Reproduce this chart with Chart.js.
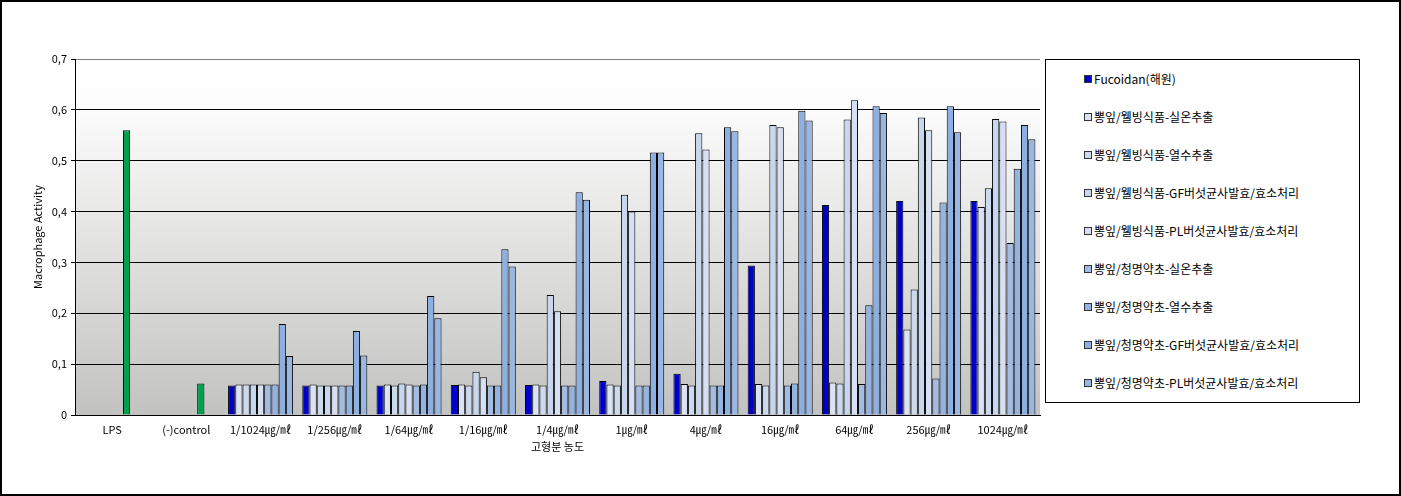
<html>
<head>
<script src="https://cdn.jsdelivr.net/npm/chart.js@4.4.0/dist/chart.umd.min.js"></script>
<style>
    body { margin: 0; background: #fff; }
    #frame { position: absolute; left: 0; top: 0; width: 1397px; height: 492px; border: 2px solid #000; }
    #wrap { position: absolute; left: 0; top: 0; width: 1401px; height: 496px; }
    #legend {
        position: absolute; left: 1045px; top: 59px; width: 313px; height: 342px;
        border: 1px solid #000; background: #fff;
        font-family: "Noto Sans CJK KR", sans-serif; font-size: 12px; color: #000;
    }
    .item { position: absolute; left: 38px; height: 16px; line-height: 16px; white-space: nowrap; }
    .sw { display: inline-block; width: 6px; height: 6px; border: 1px solid #333; margin-right: 2px; vertical-align: 1px; }
</style>
</head>
<body>
<div id="frame"></div>
<div id="wrap"><canvas id="myChart" width="1401" height="496"></canvas></div>
<div id="legend"></div>

<script>
    // categories (x axis)
    const categories = ['LPS', '(-)control', '1/1024㎍/㎖', '1/256㎍/㎖', '1/64㎍/㎖', '1/16㎍/㎖', '1/4㎍/㎖',
        '1㎍/㎖', '4㎍/㎖', '16㎍/㎖', '64㎍/㎖', '256㎍/㎖', '1024㎍/㎖'];

    const seriesNames = ['Fucoidan(해원)', '뽕잎/웰빙식품-실온추출', '뽕잎/웰빙식품-열수추출',
        '뽕잎/웰빙식품-GF버섯균사발효/효소처리', '뽕잎/웰빙식품-PL버섯균사발효/효소처리',
        '뽕잎/청명약초-실온추출', '뽕잎/청명약초-열수추출',
        '뽕잎/청명약초-GF버섯균사발효/효소처리', '뽕잎/청명약초-PL버섯균사발효/효소처리'];

    const fucoidan   = [null, null, 0.058, 0.058, 0.058, 0.059, 0.059, 0.067, 0.081, 0.294, 0.413, 0.421, 0.421];
    const wbRoom     = [null, null, 0.060, 0.060, 0.060, 0.060, 0.060, 0.060, 0.061, 0.061, 0.064, 0.168, 0.409];
    const wbHot      = [null, null, 0.060, 0.058, 0.058, 0.058, 0.058, 0.058, 0.058, 0.058, 0.062, 0.247, 0.446];
    const wbGF       = [null, null, 0.060, 0.058, 0.062, 0.085, 0.236, 0.433, 0.554, 0.570, 0.581, 0.585, 0.582];
    const wbPL       = [null, null, 0.060, 0.058, 0.060, 0.074, 0.204, 0.400, 0.522, 0.566, 0.619, 0.560, 0.577];
    const cmRoom     = [null, null, 0.060, 0.058, 0.058, 0.058, 0.058, 0.058, 0.058, 0.058, 0.061, 0.072, 0.338];
    const cmHot      = [0.560, 0.062, 0.060, 0.058, 0.060, 0.058, 0.058, 0.058, 0.058, 0.062, 0.216, 0.418, 0.484];
    const cmGF       = [null, null, 0.179, 0.165, 0.234, 0.326, 0.438, 0.516, 0.566, 0.598, 0.607, 0.607, 0.570];
    const cmPL       = [null, null, 0.116, 0.117, 0.190, 0.292, 0.423, 0.516, 0.558, 0.579, 0.594, 0.556, 0.542];

    const yTickLabels = ['0', '0,1', '0,2', '0,3', '0,4', '0,5', '0,6', '0,7'];

    const allData = [fucoidan, wbRoom, wbHot, wbGF, wbPL, cmRoom, cmHot, cmGF, cmPL];
    const colors = ['#0000CC', '#DAE3F3', '#CCDAEE', '#C8D7EE', '#D6E0F2', '#A3BCE4', '#95B3E0', '#8DB0E2', '#9AB6E2'];
    const controlGreen = '#00A04E';

    const datasets = allData.map((d, i) => {
        let bg = colors[i];
        if (i === 6) {
            // LPS and (-)control bars are green
            bg = categories.map((c, j) => j < 2 ? controlGreen : colors[i]);
        }
        return {
            label: seriesNames[i],
            data: d,
            backgroundColor: bg,
            borderColor: '#000',
            borderWidth: 1,
            borderSkipped: 'bottom',
            categoryPercentage: 0.876,
            barPercentage: 1.0
        };
    });

    // gradient plot background
    const bgPlugin = {
        id: 'bgPlugin',
        beforeDraw(chart) {
            const { ctx, chartArea } = chart;
            const g = ctx.createLinearGradient(0, chartArea.top, 0, chartArea.bottom);
            g.addColorStop(0, '#FFFFFF');
            g.addColorStop(0.12, '#FDFDFD');
            g.addColorStop(1, '#C2C2C0');
            ctx.save();
            ctx.fillStyle = g;
            ctx.fillRect(chartArea.left, chartArea.top, chartArea.right - chartArea.left, chartArea.bottom - chartArea.top);
            ctx.restore();
        }
    };

    const ctx = document.getElementById('myChart').getContext('2d');
    Chart.defaults.font.family = '"Noto Sans CJK KR", "DejaVu Sans", sans-serif';
    Chart.defaults.color = '#000';

    const myChart = new Chart(ctx, {
        type: 'bar',
        data: { labels: categories, datasets: datasets },
        plugins: [bgPlugin],
        options: {
            responsive: false,
            animation: false,
            layout: { padding: { left: 0, right: 361, top: 59, bottom: 43 } },
            plugins: {
                legend: { display: false },
                tooltip: { enabled: false }
            },
            scales: {
                x: {
                    grid: { display: false, drawTicks: false },
                    border: { color: '#000', width: 1 },
                    ticks: { font: { size: 11 }, padding: 8, maxRotation: 0, autoSkip: false },
                    title: { display: true, text: '고형분 농도', font: { size: 11 }, padding: { top: 0, bottom: 0 } },
                    afterFit(scale) { scale.height = 38; }
                },
                y: {
                    min: 0, max: 0.7,
                    ticks: {
                        stepSize: 0.1, font: { size: 11 }, padding: 4,
                        callback: (v) => yTickLabels[Math.round(v * 10)]
                    },
                    grid: {
                        color: (c) => c.tick && Math.round(c.tick.value * 10) === 7 ? '#808080' : '#000',
                        tickColor: '#000', tickLength: 4
                    },
                    border: { color: '#000', width: 1 },
                    title: { display: true, text: 'Macrophage Activity', font: { size: 11 }, padding: { top: 31, bottom: 8 } },
                    afterFit(scale) { scale.width = 75; }
                }
            }
        }
    });

    // legend box
    const legend = document.getElementById('legend');
    seriesNames.forEach((name, i) => {
        const div = document.createElement('div');
        div.className = 'item';
        div.style.top = (11 + i * 38) + 'px';
        const sw = document.createElement('span');
        sw.className = 'sw';
        sw.style.background = colors[i];
        div.appendChild(sw);
        div.appendChild(document.createTextNode(name));
        legend.appendChild(div);
    });
</script>
</body>
</html>
